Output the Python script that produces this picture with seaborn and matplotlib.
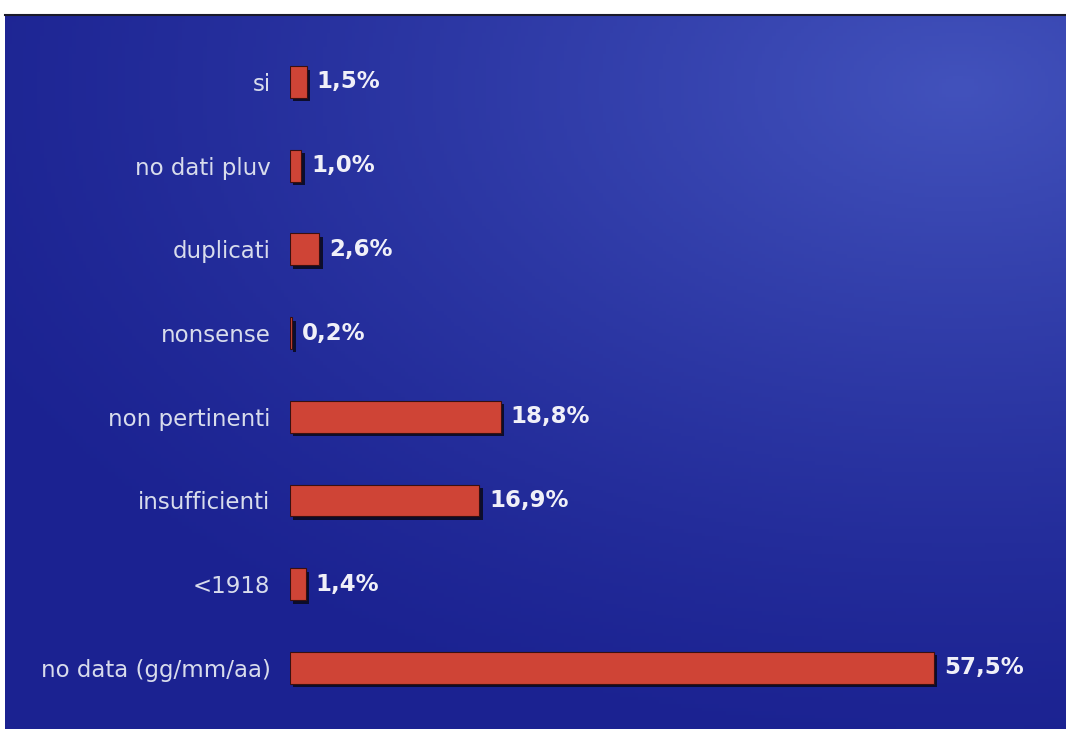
import numpy as np
import pandas as pd
import matplotlib
matplotlib.use("Agg")
import matplotlib.pyplot as plt
import matplotlib.patheffects as pe
import seaborn as sns

categories = ["si", "no dati pluv", "duplicati", "nonsense", "non pertinenti",
              "insufficienti", "<1918", "no data (gg/mm/aa)"]
values = [1.5, 1.0, 2.6, 0.2, 18.8, 16.9, 1.4, 57.5]

df = pd.DataFrame({"cat": categories, "val": values})

sns.set_theme(style="white")
plt.rcParams['font.family'] = ['DejaVu Sans']

W, H = 1066, 729
fig = plt.figure(figsize=(W / 100, H / 100), dpi=100, facecolor="white")

# blue panel, lighter towards the upper right
px_l, px_t = 5, 15
bg = fig.add_axes([px_l / W, 0, 1 - px_l / W, 1 - px_t / H])
v, u = np.mgrid[0:1:200j, 0:1:300j]
d = np.hypot((u - 0.9) * 0.9, (v - 0.1) * 1.0)
t = np.clip(1 - d / 0.95, 0, 1) ** 1.3
dark = np.array([27, 34, 145]) / 255
light = np.array([66, 82, 188]) / 255
img = dark[None, None, :] * (1 - t[..., None]) + light[None, None, :] * t[..., None]
bg.imshow(img, aspect="auto", extent=[0, 1, 0, 1], origin="upper")
bg.set_xlim(0, 1)
bg.set_ylim(0, 1)
bg.set_xticks([])
bg.set_yticks([])
for s in ["left", "right", "bottom"]:
    bg.spines[s].set_visible(False)
bg.spines["top"].set_color("#1a1a2a")
bg.spines["top"].set_linewidth(1.5)

# bars
ax0 = 290
ax = fig.add_axes([ax0 / W, 0, 1 - ax0 / W, 1 - px_t / H])
ax.patch.set_alpha(0)
scale = 11.2
sns.barplot(data=df, y="cat", x="val", orient="h", color="#cf4436",
            saturation=1, width=0.38, edgecolor="#3a1010", linewidth=0.8, ax=ax)
for p in ax.patches:
    p.set_path_effects([pe.SimplePatchShadow(offset=(2.5, -2.5),
                                             shadow_rgbFace="#0a0a20", alpha=0.9),
                        pe.Normal()])
ax.set_xlim(0, (W - ax0) / scale)
ax.set_ylim(7.73, -0.8)
labels = [f"{v:.1f}%".replace(".", ",") for v in values]
ax.bar_label(ax.containers[0], labels=labels, padding=7, color="#f0f0f8",
             fontsize=16.5, fontweight="bold")
ax.set_xlabel("")
ax.set_ylabel("")
ax.set_xticks([])
ax.tick_params(axis="y", length=0, pad=14, labelsize=16.5, labelcolor="#d8dcec")
for s in ax.spines.values():
    s.set_visible(False)

fig.savefig("out.png", dpi=100, facecolor="white")
